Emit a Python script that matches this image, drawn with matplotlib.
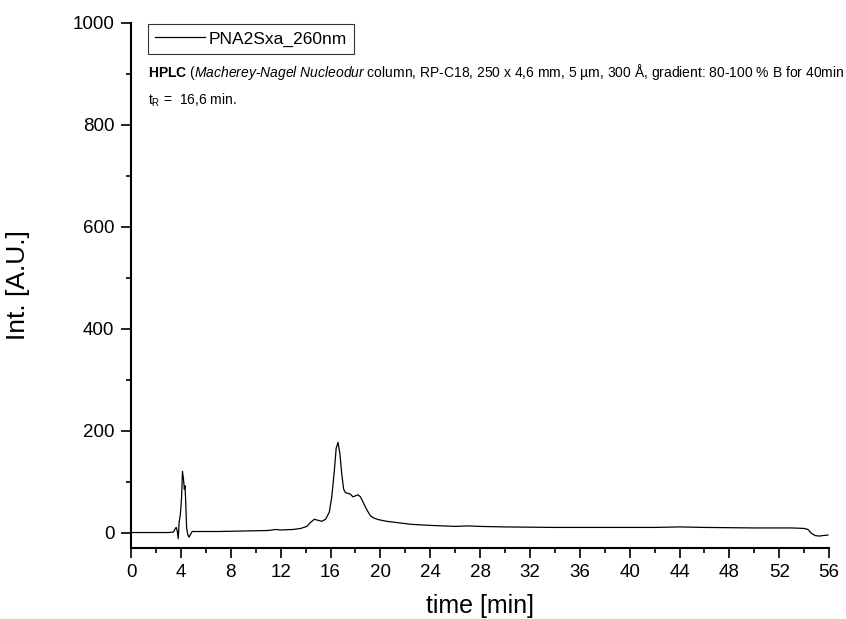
import matplotlib
matplotlib.use("Agg")
import matplotlib.pyplot as plt
from matplotlib.ticker import MultipleLocator

plt.rcParams['font.family'] = ['Liberation Sans', 'DejaVu Sans']
plt.rcParams['mathtext.fontset'] = 'custom'
plt.rcParams['mathtext.rm'] = 'Liberation Sans'
plt.rcParams['mathtext.it'] = 'Liberation Sans:italic'
plt.rcParams['mathtext.bf'] = 'Liberation Sans:bold'

# chromatogram (time in min, intensity in A.U.)
time = [0, 1, 2, 3, 3.4, 3.55, 3.62, 3.7, 3.78, 3.85, 3.95, 4.05, 4.12, 4.2,
        4.27, 4.32, 4.38, 4.45, 4.55, 4.65, 4.75, 4.9, 5.5, 7, 9, 11, 11.6, 12,
        13, 13.6, 14.1, 14.4, 14.7, 15.0, 15.3, 15.6, 15.9, 16.1, 16.3, 16.45,
        16.6, 16.75, 16.9, 17.05, 17.2, 17.4, 17.6, 17.8, 18.0, 18.2, 18.4, 18.6,
        18.9, 19.2, 19.5, 19.9, 20.5, 21.5, 22.5, 24, 26, 27, 28, 30, 34, 38, 42,
        44, 46, 50, 53, 54, 54.3, 54.6, 54.9, 55.2, 55.5, 55.9]
intensity = [0, 0, 0, 0, 1, 8, 10, 3, -12, 20, 35, 70, 120, 105,
             85, 92, 60, 10, -5, -9, -4, 2, 2, 2, 3, 4, 6, 5,
             6, 8, 12, 20, 26, 24, 22, 26, 40, 70, 120, 165,
             177, 155, 115, 85, 78, 77, 75, 70, 72, 74, 70, 60,
             45, 33, 28, 25, 22, 19, 16, 14, 12, 13, 12, 11, 10, 10, 10,
             11, 10, 9, 9, 8, 6, -2, -6, -7, -6, -5]

fig = plt.figure(figsize=(8.46, 6.19), dpi=100)
ax = fig.add_axes([0.155, 0.115, 0.825, 0.848])
ax.plot(time, intensity, color='black', lw=0.9, label='PNA2Sxa_260nm')

ax.set_xlim(0, 56)
ax.set_ylim(-30, 1000)
ax.xaxis.set_major_locator(MultipleLocator(4))
ax.xaxis.set_minor_locator(MultipleLocator(2))
ax.yaxis.set_major_locator(MultipleLocator(200))
ax.yaxis.set_minor_locator(MultipleLocator(100))
ax.tick_params(which='major', direction='out', length=7, width=1.2, labelsize=13.5, pad=5)
ax.tick_params(which='minor', direction='out', length=3.5, width=1.2)
for s in ['top', 'right']:
    ax.spines[s].set_visible(False)
for s in ['left', 'bottom']:
    ax.spines[s].set_linewidth(1.5)

ax.set_xlabel('time [min]', fontsize=18, labelpad=9)
ax.set_ylabel('Int. [A.U.]', fontsize=19)
ax.yaxis.set_label_coords(-0.145, 0.5)

leg = ax.legend(loc='upper left', bbox_to_anchor=(0.024, 0.997), fontsize=12.5,
                frameon=True, fancybox=False, edgecolor='black',
                handlelength=2.9, handletextpad=0.2, borderpad=0.4,
                borderaxespad=0)
leg.get_frame().set_linewidth(0.8)

hplc = (r"$\mathbf{HPLC}$ ($\mathit{Macherey}$-$\mathit{Nagel\ Nucleodur}$ column, "
        r"RP-C18, 250 x 4,6 mm, 5 µm, 300 Å, gradient: 80-100 % B for 40min")
ax.text(0.024, 0.907, hplc, transform=ax.transAxes, fontsize=10, va='center')
ax.text(0.024, 0.852, r"$\mathrm{t}_\mathrm{R}$ =  16,6 min.", transform=ax.transAxes,
        fontsize=10, va='center')

fig.savefig('out.png', dpi=100)
